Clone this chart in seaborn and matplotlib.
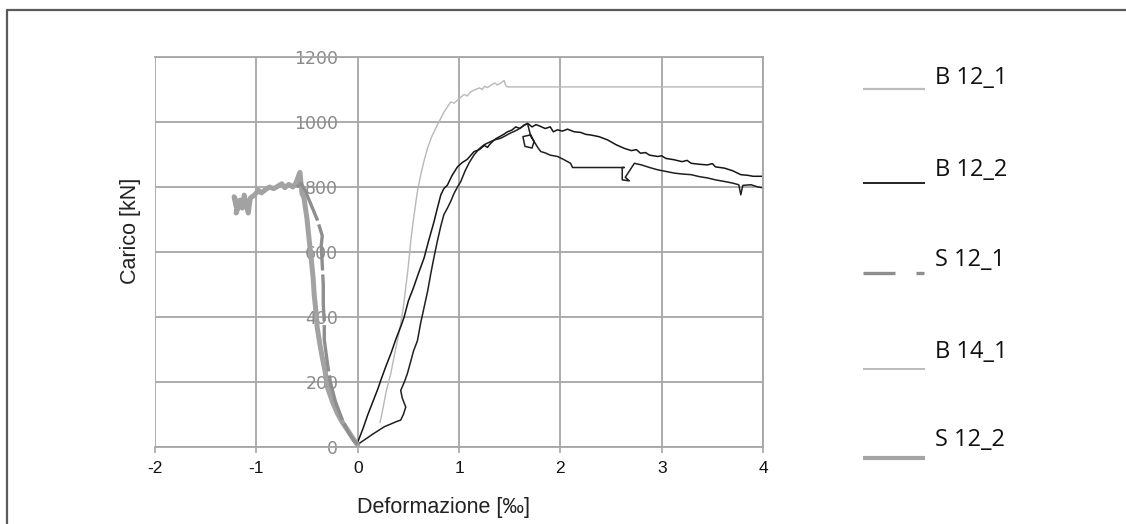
import matplotlib
matplotlib.use("Agg")
import matplotlib.pyplot as plt
from matplotlib.lines import Line2D
import seaborn as sns
import pandas as pd

# Load-strain curves: strain [permil] and load [kN]
b12_1_x = [0.22, 0.25, 0.28, 0.326, 0.36, 0.40, 0.424, 0.45, 0.49, 0.51, 0.523, 0.55, 0.589, 0.622,
           0.65, 0.688, 0.73, 0.786, 0.85, 0.918, 0.95, 0.984, 1.05, 1.08, 1.115, 1.148, 1.20, 1.23,
           1.25, 1.28, 1.313, 1.35, 1.38, 1.40, 1.43, 1.444, 1.46, 1.478, 4.0]
b12_1_y = [75, 120, 170, 226, 280, 340, 379, 430, 532, 590, 634, 700, 787, 838,
           875, 919, 955, 991, 1030, 1062, 1058, 1067, 1085, 1080, 1093, 1098, 1105, 1100,
           1110, 1106, 1113, 1120, 1114, 1118, 1124, 1128, 1112, 1108, 1108]

b12_2_x = [0.0, 0.05, 0.10, 0.15, 0.20, 0.227, 0.28, 0.33, 0.38, 0.43, 0.457, 0.50, 0.55, 0.60,
           0.655, 0.70, 0.75, 0.786, 0.82, 0.85, 0.885, 0.93, 0.984, 1.03, 1.08, 1.148, 1.20,
           1.25, 1.28, 1.313, 1.36, 1.40, 1.44, 1.478, 1.52, 1.56, 1.60, 1.642, 1.68, 1.72,
           1.76, 1.807, 1.85, 1.90, 1.93, 1.971, 2.02, 2.07, 2.135, 2.20, 2.25, 2.30, 2.38,
           2.465, 2.55, 2.63, 2.70, 2.75, 2.79, 2.84, 2.88, 2.96, 3.00, 3.04, 3.12, 3.20,
           3.25, 3.29, 3.37, 3.45, 3.50, 3.53, 3.62, 3.70, 3.78, 3.85, 3.90, 4.0, 4.01]
b12_2_y = [15, 55, 100, 140, 180, 205, 250, 290, 335, 375, 399, 450, 490, 535,
           582, 635, 690, 735, 776, 795, 806, 835, 862, 875, 885, 909, 915,
           928, 922, 935, 948, 955, 962, 970, 975, 985, 980, 991, 995, 985,
           992, 986, 980, 985, 970, 976, 972, 978, 970, 968, 962, 960, 955,
           945, 930, 919, 912, 915, 904, 906, 898, 894, 896, 888, 884, 878,
           882, 873, 870, 868, 872, 862, 858, 850, 838, 836, 833, 833, 815]

b14_1_x = [0.0, 0.08, 0.15, 0.20, 0.26, 0.32, 0.38, 0.424, 0.45, 0.474, 0.44, 0.424, 0.46, 0.49,
           0.52, 0.55, 0.589, 0.62, 0.655, 0.69, 0.72, 0.75, 0.786, 0.82, 0.85, 0.885, 0.918,
           0.95, 0.984, 1.017, 1.06, 1.10, 1.148, 1.20, 1.247, 1.30, 1.35, 1.41, 1.46, 1.50,
           1.55, 1.576, 1.62, 1.675, 1.70, 1.74, 1.72, 1.65, 1.63, 1.70, 1.75, 1.78, 1.807,
           1.85, 1.90, 1.971, 2.03, 2.10, 2.12, 2.63, 2.61, 2.61, 2.68, 2.64, 2.73, 2.80,
           2.88, 2.96, 3.04, 3.12, 3.20, 3.29, 3.37, 3.45, 3.53, 3.62, 3.70, 3.76, 3.78,
           3.80, 3.88, 3.95, 4.01]
b14_1_y = [8, 25, 40, 50, 62, 70, 78, 83, 100, 123, 150, 174, 200, 226,
           260, 295, 327, 380, 430, 480, 532, 580, 634, 680, 715, 735, 756,
           780, 800, 817, 850, 875, 899, 918, 930, 938, 945, 950, 958, 965,
           972, 976, 985, 996, 965, 940, 920, 925, 955, 960, 935, 920, 909,
           905, 898, 894, 885, 873, 860, 860, 860, 822, 819, 830, 873, 868,
           860, 853, 848, 843, 840, 838, 832, 828, 822, 817, 812, 807, 776,
           805, 807, 800, 797]

s12_1_x = [-0.60, -0.56, -0.52, -0.48, -0.44, -0.40, -0.37, -0.35, -0.36, -0.35, -0.34, -0.34,
           -0.33, -0.33, -0.30, -0.27, -0.22, -0.16, -0.10, -0.04, 0.0]
s12_1_y = [800, 812, 790, 760, 730, 700, 670, 650, 620, 560, 500, 440,
           380, 330, 260, 200, 140, 90, 50, 20, 8]

s12_2_x = [-1.20, -1.22, -1.18, -1.20, -1.16, -1.14, -1.12, -1.10, -1.08, -1.06, -1.02, -0.98,
           -0.95, -0.91, -0.87, -0.83, -0.79, -0.75, -0.72, -0.68, -0.64, -0.61, -0.58, -0.57,
           -0.55, -0.53, -0.50, -0.48, -0.46, -0.44, -0.43, -0.41, -0.40, -0.37, -0.35, -0.32,
           -0.30, -0.25, -0.20, -0.15, -0.10, -0.05, 0.0]
s12_2_y = [740, 770, 745, 720, 760, 735, 775, 745, 720, 766, 775, 790,
           782, 792, 800, 795, 802, 810, 798, 808, 800, 812, 838, 845,
           780, 766, 700, 640, 582, 520, 470, 410, 368, 310, 276, 230,
           185, 140, 103, 75, 52, 28, 6]

x_ticks = [-2, -1, 0, 1, 2, 3, 4]
y_ticks = [0, 200, 400, 600, 800, 1000, 1200]
legend_labels = ["B 12_1", "B 12_2", "S 12_1", "B 14_1", "S 12_2"]

sns.set_theme(style="white")
plt.rcParams["font.family"] = ["Liberation Sans", "DejaVu Sans"]

fig = plt.figure(figsize=(11.26, 5.24), dpi=100)
ax = fig.add_axes([0.1377, 0.1469, 0.5400, 0.7443])

grid_c = "#a6a6a6"
ax.grid(True, color=grid_c, lw=1.3)
ax.set_axisbelow(True)

series = [
    (b12_1_x, b12_1_y, dict(color="#b8b8b8", lw=1.0)),
    (b12_2_x, b12_2_y, dict(color="#151515", lw=1.1)),
    (b14_1_x, b14_1_y, dict(color="#202020", lw=1.1)),
    (s12_2_x, s12_2_y, dict(color="#a2a2a2", lw=3.6)),
    (s12_1_x, s12_1_y, dict(color="#8e8e8e", lw=2.4, linestyle=(0, (14, 1.2)))),
]
for xs, ys, style in series:
    df = pd.DataFrame({"x": xs, "y": ys})
    sns.lineplot(data=df, x="x", y="y", sort=False, estimator=None, ax=ax, **style)

ax.set_xlim(-2, 4)
ax.set_ylim(0, 1200)
ax.set_xticks(x_ticks)
ax.set_yticks(y_ticks)
ax.set_xticklabels([str(v) for v in x_ticks])
ax.set_yticklabels([str(v) for v in y_ticks])

# value axis crosses at zero strain
for side in ["top", "right", "bottom", "left"]:
    ax.spines[side].set_color(grid_c)
    ax.spines[side].set_linewidth(1.3)
ax.spines["left"].set_position(("data", 0))
ax.spines["left"].set_visible(False)

ax.tick_params(axis="x", which="both", bottom=True, length=4, width=1.2, color=grid_c,
               labelsize=12.5, labelcolor="#111111", pad=6)
ax.tick_params(axis="y", which="both", left=False, length=0, labelsize=12.5,
               labelcolor="#8a8a8a", pad=14)
for t in ax.get_yticklabels():
    t.set_family(["DejaVu Sans"])

ax.set_xlabel("Deformazione [‰]", fontsize=15.5, color="#222222")
ax.set_ylabel("Carico [kN]", fontsize=15.5, color="#222222")
ax.xaxis.set_label_coords(0.474, -0.128)
ax.yaxis.set_label_coords(-0.023, 0.554)

# legend column on the right
W, H = 1126.0, 524.0
leg_text_y = [78, 170, 260, 352, 440]
leg_line_y = [89, 183, 273, 369, 458]
leg_styles = [
    dict(color="#bdbdbd", lw=1.6),
    dict(color="#222222", lw=1.4),
    None,
    dict(color="#b5b5b5", lw=1.3),
    dict(color="#a5a5a5", lw=3.0),
]
for lab, ty, ly, st in zip(legend_labels, leg_text_y, leg_line_y, leg_styles):
    yf = 1 - ly / H
    if st is None:
        fig.add_artist(Line2D([863 / W, 895 / W], [yf, yf], color="#8e8e8e", lw=2.4,
                              transform=fig.transFigure, solid_capstyle="butt"))
        fig.add_artist(Line2D([916 / W, 924 / W], [yf, yf], color="#8e8e8e", lw=2.4,
                              transform=fig.transFigure, solid_capstyle="butt"))
    else:
        fig.add_artist(Line2D([863 / W, 925 / W], [yf, yf], transform=fig.transFigure,
                              solid_capstyle="butt", **st))
    fig.text(935 / W, 1 - ty / H, lab, fontsize=17, va="center", ha="left",
             family=["Open Sans", "DejaVu Sans"], color="#111111")

# outer frame (top and left edges)
fy = 1 - 9.5 / H
fx = 6.5 / W
fig.add_artist(Line2D([fx, 1.0], [fy, fy], color="#5a5a5a", lw=1.6, transform=fig.transFigure))
fig.add_artist(Line2D([fx, fx], [0.0, fy], color="#5a5a5a", lw=1.6, transform=fig.transFigure))

fig.savefig("out.png", dpi=100, facecolor="white")
